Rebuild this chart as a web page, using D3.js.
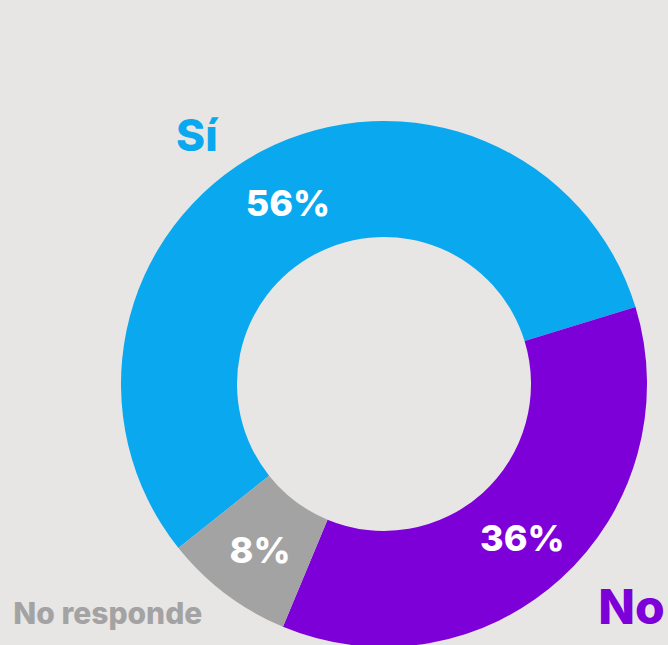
<!DOCTYPE html>
<html>
<head>
<meta charset="utf-8">
<script src="https://cdn.jsdelivr.net/npm/d3@7"></script>
<style>
  html, body { margin: 0; padding: 0; background: #e8e6e4; }
  svg { display: block; font-family: Inter, "Open Sans", sans-serif; }
</style>
</head>
<body>
<div id="chart"></div>
<script>
// Data
const categories = ['Sí', 'No', 'No responde'];
const values = [56, 36, 8];
const colors = ['#0aa8ef', '#7e00d9', '#a3a3a3'];

const width = 668;
const height = 645;
const cx = 384;
const cy = 384;
const outerR = 263;
const innerR = 147;

// label layout (angle in degrees clockwise from top, distance from centre)
const labelPos = [
  { angle: -37, dist: 311, size: 44 },
  { angle: 132, dist: 333, size: 48 },
  { angle: 230.3, dist: 359, size: 30 },
];

const svg = d3.select('#chart')
  .append('svg')
  .attr('width', width)
  .attr('height', height);

svg.append('rect')
  .attr('width', width)
  .attr('height', height)
  .attr('fill', '#e8e6e4');

const g = svg.append('g')
  .attr('transform', `translate(${cx},${cy})`);

const startDeg = -128.6;
const pie = d3.pie()
  .sort(null)
  .value(d => d)
  .startAngle(startDeg * Math.PI / 180)
  .endAngle((startDeg + 360) * Math.PI / 180);

const arcs = pie(values);

const arc = d3.arc()
  .innerRadius(innerR)
  .outerRadius(outerR);

g.selectAll('.slice')
  .data(arcs)
  .join('path')
  .attr('class', 'slice')
  .attr('d', arc)
  .attr('fill', (d, i) => colors[i]);

// percentage labels
const labelArc = d3.arc()
  .innerRadius(150)
  .outerRadius(262);

g.selectAll('.pct')
  .data(arcs)
  .join('text')
  .attr('class', 'pct')
  .attr('transform', d => `translate(${labelArc.centroid(d)})`)
  .attr('text-anchor', 'middle')
  .attr('dy', '0.4em')
  .attr('fill', '#ffffff')
  .attr('font-size', '36px')
  .attr('font-weight', 800)
  .text(d => `${d.data}%`);

// category labels
g.selectAll('.cat')
  .data(categories)
  .join('text')
  .attr('class', 'cat')
  .attr('x', (d, i) => Math.sin(labelPos[i].angle * Math.PI / 180) * labelPos[i].dist)
  .attr('y', (d, i) => -Math.cos(labelPos[i].angle * Math.PI / 180) * labelPos[i].dist)
  .attr('text-anchor', 'middle')
  .attr('dy', '0.36em')
  .attr('fill', (d, i) => colors[i])
  .attr('font-size', (d, i) => `${labelPos[i].size}px`)
  .attr('font-weight', 800)
  .text(d => d);
</script>
</body>
</html>
